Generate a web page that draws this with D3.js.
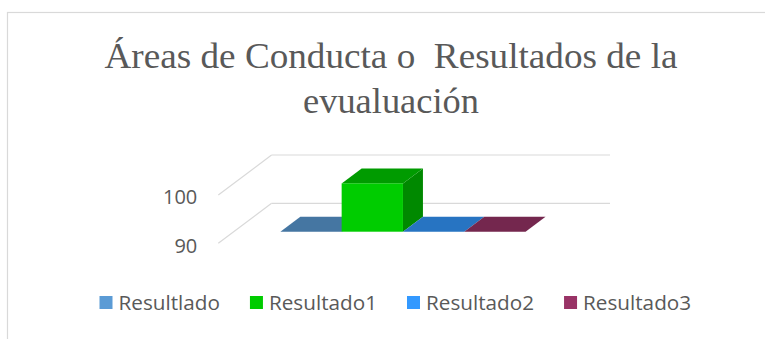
<!DOCTYPE html>
<html>
<head>
<meta charset="utf-8">
<script src="https://cdn.jsdelivr.net/npm/d3@7"></script>
<style>
  html, body { margin: 0; padding: 0; background: #ffffff; }
  svg { display: block; }
</style>
</head>
<body>
<svg id="chart" width="765" height="339"></svg>
<script>
// ---- data ----
const titleLines = ["Áreas de Conducta o  Resultados de la", "evualuación"];
const categories = [""];
const seriesNames = ["Resultlado", "Resultado1", "Resultado2", "Resultado3"];
const seriesValues = [90, 100, 90, 90];
const tickValues = [90, 100];
const tickLabels = ["90", "100"];

// ---- styling ----
const seriesColors = ["#5B9BD5", "#00CC00", "#3399FF", "#993366"];
const textColor = "#595959";
const gridColor = "#D9D9D9";

const svg = d3.select("#chart");

// chart frame
svg.append("rect")
  .attr("x", 7.5).attr("y", 12.5)
  .attr("width", 800).attr("height", 400)
  .attr("fill", "#ffffff")
  .attr("stroke", gridColor).attr("stroke-width", 1.2);

// title
const title = svg.append("g")
  .attr("font-family", "'Liberation Serif', 'Times New Roman', serif")
  .attr("font-size", 36)
  .attr("fill", textColor)
  .attr("text-anchor", "middle");
const titleBaselines = [68, 113];
const titleWidths = [573, 176];
titleLines.forEach((t, i) => {
  title.append("text")
    .attr("x", 391).attr("y", titleBaselines[i])
    .style("white-space", "pre")
    .attr("textLength", titleWidths[i])
    .attr("lengthAdjust", "spacingAndGlyphs")
    .text(t);
});

// ---- 3D plot geometry ----
const frontLeft = 218.3, backRight = 610;
const depthDX = 53.3, depthDY = -40;
const frontRight = backRight - depthDX;
const barZ0 = 0.29, barZ1 = 0.665;   // bar depth span as fraction of floor depth

// value scale on the front plane
const y = d3.scaleLinear().domain([90, 100]).range([243.3, 195]);
const x0 = d3.scaleBand().domain(categories).range([frontLeft, frontRight])
  .paddingInner(0).paddingOuter(0.19);
const x1 = d3.scaleBand().domain(seriesNames).range([0, x0.bandwidth()]).padding(0);

const proj = (px, py, z) => [px + z * depthDX, py + z * depthDY];

// gridlines: back wall + side wall
const grid = svg.append("g").attr("stroke", gridColor).attr("stroke-width", 1.2).attr("fill", "none");
tickValues.forEach(v => {
  const f = proj(frontLeft, y(v), 0);
  const b = proj(frontLeft, y(v), 1);
  grid.append("line").attr("x1", b[0]).attr("y1", b[1]).attr("x2", backRight).attr("y2", b[1]);
  grid.append("line").attr("x1", f[0]).attr("y1", f[1]).attr("x2", b[0]).attr("y2", b[1]);
});

// value axis labels
const axis = d3.axisLeft(y).tickValues(tickValues)
  .tickFormat((d, i) => tickLabels[i]).tickSize(0).tickPadding(21);
const axisG = svg.append("g")
  .attr("transform", `translate(${frontLeft},2.5)`)
  .call(axis);
axisG.select(".domain").remove();
axisG.selectAll("text")
  .attr("font-family", "'Open Sans', sans-serif")
  .attr("font-size", 20)
  .attr("fill", textColor);

// bars
const shade = (c, k) => {
  const r = d3.rgb(c);
  return d3.rgb(r.r * k, r.g * k, r.b * k).formatHex();
};
const bars = svg.append("g");
const pts = a => a.map(p => p.join(",")).join(" ");
seriesNames.forEach((name, i) => {
  const cat = categories[0];
  const xl = x0(cat) + x1(name);
  const xr = xl + x1.bandwidth();
  const yb = y(90);
  const yt = y(seriesValues[i]);
  const c = seriesColors[i];
  const g = bars.append("g");
  // right side
  if (yb - yt > 0) {
    g.append("polygon")
      .attr("points", pts([proj(xr, yb, barZ0), proj(xr, yt, barZ0), proj(xr, yt, barZ1), proj(xr, yb, barZ1)]))
      .attr("fill", shade(c, 0.67));
  }
  // top
  g.append("polygon")
    .attr("points", pts([proj(xl, yt, barZ0), proj(xr, yt, barZ0), proj(xr, yt, barZ1), proj(xl, yt, barZ1)]))
    .attr("fill", shade(c, 0.76));
  // front
  if (yb - yt > 0) {
    const p = proj(xl, yt, barZ0);
    g.append("rect")
      .attr("x", p[0]).attr("y", p[1])
      .attr("width", xr - xl).attr("height", yb - yt)
      .attr("fill", c);
  }
});

// legend
const legend = svg.append("g")
  .attr("font-family", "'Open Sans', sans-serif")
  .attr("font-size", 20.5)
  .attr("fill", textColor);
let lx = 99.5;
seriesNames.forEach((name, i) => {
  legend.append("rect")
    .attr("x", lx).attr("y", 296).attr("width", 13).attr("height", 13)
    .attr("fill", seriesColors[i]);
  const t = legend.append("text")
    .attr("x", lx + 19).attr("y", 309.5)
    .text(name);
  const w = t.node().getComputedTextLength() * 1.01;
  t.attr("textLength", w).attr("lengthAdjust", "spacingAndGlyphs");
  lx += 19 + w + 30;
});
</script>
</body>
</html>
